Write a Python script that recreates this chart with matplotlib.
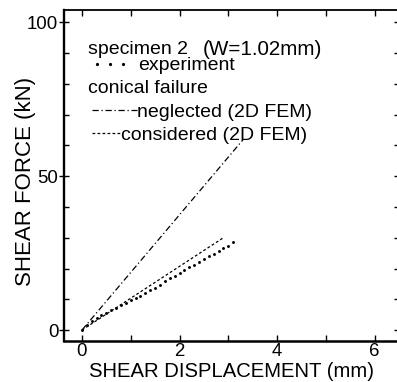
import numpy as np
import matplotlib
matplotlib.use('Agg')
import matplotlib.pyplot as plt
from matplotlib.ticker import MultipleLocator

plt.rcParams['font.family'] = ['Liberation Sans', 'DejaVu Sans']

# experiment (shear displacement mm, shear force kN)
exp_disp = [0.0, 0.1, 0.2, 0.3, 0.4, 0.5, 0.6, 0.7, 0.8, 0.9, 1.0,
            1.1, 1.2, 1.3, 1.4, 1.5, 1.6, 1.7, 1.8, 1.9, 2.0,
            2.1, 2.2, 2.3, 2.4, 2.5, 2.6, 2.7, 2.8, 2.9, 3.0, 3.1]
exp_force = [0.0, 1.8, 2.9, 3.8, 4.8, 5.7, 6.5, 7.3, 8.1, 8.9, 9.7,
             10.4, 11.2, 12.0, 12.9, 13.8, 14.8, 15.8, 16.8, 17.7, 18.6,
             19.5, 20.4, 21.3, 22.2, 23.0, 23.9, 24.8, 25.6, 26.5, 27.4, 28.6]

# 2D FEM, conical failure neglected / considered
negl_disp = [0.0, 3.3]
negl_force = [0.0, 61.8]
cons_disp = [0.0, 2.9]
cons_force = [0.0, 30.0]

fig = plt.figure(figsize=(3.97, 3.82), dpi=100)
ax = fig.add_axes([0.161, 0.107, 0.844, 0.866])

dashdot = (0, (5, 2.2, 1, 2.2))
shortdash = (0, (2.2, 1.8))

ax.plot(negl_disp, negl_force, color='black', lw=0.9, linestyle=dashdot)
ax.plot(cons_disp, cons_force, color='black', lw=0.9, linestyle=shortdash)
ax.plot(exp_disp, exp_force, linestyle='none', marker='o', ms=2.1, mew=0,
        color='black')

ax.set_xlim(-0.37, 6.5)
ax.set_ylim(-3.6, 103.9)

ax.xaxis.set_major_locator(MultipleLocator(2))
ax.xaxis.set_minor_locator(MultipleLocator(1))
ax.yaxis.set_major_locator(MultipleLocator(50))
ax.yaxis.set_minor_locator(MultipleLocator(10))

ax.tick_params(axis='both', which='both', direction='in', top=True,
               right=True, width=1.0, labelsize=13.4)
ax.tick_params(axis='x', which='both', length=4.5, pad=1)
ax.tick_params(axis='y', which='major', direction='inout', length=7, pad=0.5)
ax.tick_params(axis='y', which='minor', length=3.5)

ax.spines['left'].set_linewidth(1.7)
ax.spines['bottom'].set_linewidth(1.8)
ax.spines['top'].set_linewidth(1.3)
ax.spines['right'].set_linewidth(1.3)

ax.set_xlabel('SHEAR DISPLACEMENT (mm)', fontsize=14.6)
ax.set_ylabel('SHEAR FORCE (kN)', fontsize=16.0)
ax.xaxis.set_label_coords(0.501, -0.062)
ax.yaxis.set_label_coords(-0.083, 0.483)

# hand-made legend block
tr = ax.transAxes
ax.text(0.072, 0.868, 'specimen 2', fontsize=14, transform=tr, va='baseline')
ax.text(0.415, 0.866, '(W=1.02mm)', fontsize=14.9, transform=tr, va='baseline')
ax.plot([0.1, 0.139, 0.177], [0.837, 0.837, 0.837], linestyle='none',
        marker='o', ms=2.3, mew=0, color='black', transform=tr)
ax.text(0.221, 0.821, 'experiment', fontsize=14, transform=tr, va='baseline')
ax.text(0.072, 0.749, 'conical failure', fontsize=14, transform=tr,
        va='baseline')
ax.plot([0.084, 0.218], [0.699, 0.699], color='black', lw=0.9,
        linestyle=dashdot, transform=tr)
ax.text(0.218, 0.679, 'neglected (2D FEM)', fontsize=14, transform=tr,
        va='baseline')
ax.plot([0.084, 0.170], [0.629, 0.629], color='black', lw=0.9,
        linestyle=shortdash, transform=tr)
ax.text(0.170, 0.607, 'considered (2D FEM)', fontsize=14, transform=tr,
        va='baseline')

fig.savefig('out.png', dpi=100)
